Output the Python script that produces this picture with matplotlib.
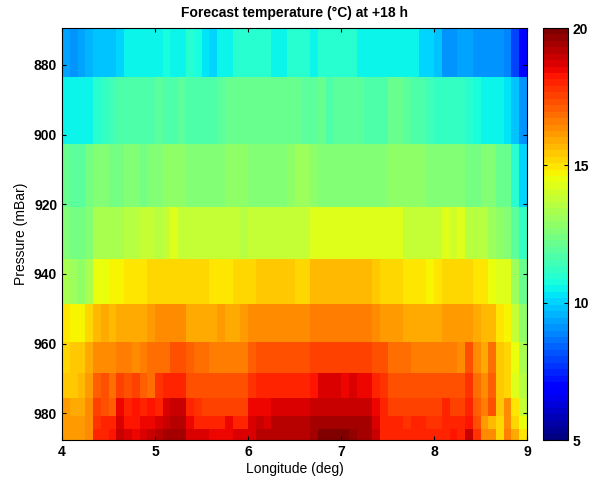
import numpy as np
import matplotlib.pyplot as plt

plt.rcParams['font.family'] = ['Liberation Sans', 'DejaVu Sans']

# cell edges: longitude (deg) and pressure levels (mBar)
lon_edges = np.linspace(4.0, 9.0, 61)
p_edges = [869.4, 883.4, 902.6, 920.7, 935.6, 948.6, 959.6, 968.5, 975.7, 980.8, 984.6, 987.7]

# temperature (degC), one list per pressure layer, top to bottom, 60 columns west to east
t_883 = [9.3, 9.1, 9.3, 9.6, 9.8, 9.8, 9.8, 10.1, 10.4, 10.4, 10.4, 10.4, 10.4, 10.7, 10.5, 10.5,
         10.9, 10.7, 10.3, 10.1, 10.5, 10.6, 10.9, 10.9, 10.9, 10.9, 10.9, 10.6, 10.6, 10.9,
         10.9, 10.9, 10.6, 10.9, 10.9, 10.9, 10.9, 10.9, 10.6, 10.6, 10.6, 10.6, 10.6, 10.6, 10.6,
         10.4, 10.1, 10.1, 9.9, 9.2, 9.2, 9.3, 9.3, 9.15, 9.15, 9.0, 9.0, 8.9, 8.0, 7.1]
t_903 = [10.6, 10.5, 10.6, 10.6, 11.0, 11.3, 11.4, 11.7, 11.7, 11.7, 11.7, 11.7, 11.8, 11.7, 11.7, 11.8,
         11.7, 11.7, 11.6, 11.6, 11.8, 12.1, 12.1, 12.1, 12.1, 12.1, 12.1, 12.1, 12.1, 12.1,
         12.1, 11.9, 11.9, 12.1, 11.7, 12.0, 12.0, 12.0, 12.0, 11.7, 11.7, 11.7, 12.1, 12.1, 11.9,
         11.7, 11.7, 11.5, 11.3, 11.3, 11.2, 11.2, 10.9, 10.8, 10.6, 10.5, 10.6, 10.3, 9.7, 9.0]
t_921 = [12.1, 12.0, 11.8, 12.3, 12.5, 12.5, 12.3, 12.3, 12.5, 12.5, 12.3, 12.5, 12.5, 12.9, 12.9, 12.9,
         12.6, 12.5, 12.5, 12.5, 12.7, 12.9, 12.9, 12.9, 12.7, 12.7, 12.5, 12.7, 12.7, 12.9,
         13.1, 13.0, 12.9, 12.7, 12.5, 12.5, 12.7, 12.7, 12.7, 12.5, 12.5, 12.7, 12.9, 12.9, 12.9,
         12.9, 12.8, 12.7, 12.7, 12.7, 12.7, 12.5, 12.4, 12.3, 12.5, 12.5, 12.1, 12.1, 10.9, 10.1]
t_936 = [12.7, 12.3, 12.3, 12.5, 13.3, 13.3, 13.4, 13.4, 13.6, 13.6, 13.8, 13.8, 13.6, 13.9, 14.2, 13.8,
         13.9, 13.9, 13.9, 13.9, 13.9, 13.9, 13.9, 13.5, 13.9, 13.9, 13.9, 13.9, 13.9, 13.9,
         13.8, 13.8, 14.2, 14.2, 14.2, 14.2, 14.2, 14.2, 14.2, 14.2, 14.2, 14.2, 14.2, 14.2, 13.8,
         13.8, 13.8, 13.8, 13.8, 14.2, 14.0, 14.2, 13.6, 13.6, 13.6, 13.1, 12.9, 12.5, 11.9, 11.2]
t_949 = [13.4, 13.2, 12.9, 13.4, 14.4, 14.4, 14.7, 14.7, 15.0, 15.0, 15.0, 15.2, 15.2, 15.2, 15.3, 15.3,
         15.2, 15.2, 15.1, 14.9, 14.9, 14.9, 15.1, 15.2, 15.2, 15.4, 15.4, 15.4, 15.4, 15.4,
         15.2, 15.2, 15.6, 15.6, 15.6, 15.6, 15.6, 15.6, 15.6, 15.6, 15.5, 15.2, 15.2, 15.2, 14.9,
         15.0, 15.0, 14.8, 15.0, 15.2, 15.2, 15.2, 15.2, 15.0, 15.0, 14.6, 14.2, 14.2, 13.2, 12.1]
t_960 = [15.0, 14.8, 14.8, 15.2, 15.7, 15.9, 15.7, 15.9, 15.9, 15.9, 15.9, 16.1, 16.3, 16.3, 16.3, 16.3,
         16.0, 16.0, 15.8, 15.8, 16.1, 15.8, 15.8, 16.1, 16.3, 16.3, 16.3, 16.4, 16.4, 16.4,
         16.3, 16.3, 16.5, 16.5, 16.5, 16.5, 16.5, 16.5, 16.5, 16.5, 16.3, 16.1, 16.1, 16.1, 15.9,
         15.9, 15.9, 15.9, 15.9, 16.1, 16.1, 16.1, 16.1, 15.9, 15.7, 15.7, 15.0, 14.8, 13.8, 12.9]
t_968 = [15.3, 15.4, 15.4, 15.9, 16.4, 16.4, 16.4, 16.6, 16.6, 16.4, 16.5, 16.8, 16.8, 16.8, 17.2, 17.2,
         17.0, 16.9, 16.8, 16.6, 16.5, 16.5, 16.5, 16.5, 17.0, 17.2, 17.2, 17.4, 17.4, 17.4,
         17.2, 17.2, 17.5, 17.5, 17.5, 17.5, 17.5, 17.5, 17.5, 17.5, 17.3, 17.2, 16.9, 16.8, 16.8,
         16.6, 16.6, 16.6, 16.6, 16.6, 16.6, 16.4, 17.4, 16.4, 15.9, 16.8, 15.5, 15.3, 14.6, 13.4]
t_976 = [15.5, 15.5, 15.7, 16.1, 17.0, 17.2, 16.8, 17.6, 17.4, 17.6, 17.0, 16.8, 17.7, 18.1, 18.1, 18.1,
         17.4, 17.4, 17.2, 17.2, 17.2, 17.2, 17.2, 17.2, 17.7, 17.9, 17.9, 18.1, 18.1, 18.1,
         18.1, 18.1, 18.3, 18.6, 18.6, 18.6, 18.4, 18.7, 18.5, 18.5, 18.1, 17.8, 17.4, 17.4, 17.4,
         17.2, 17.2, 17.2, 17.2, 17.2, 17.2, 17.2, 17.7, 16.8, 16.4, 17.0, 15.5, 15.2, 14.2, 13.6]
t_981 = [16.1, 15.9, 15.9, 16.4, 17.6, 17.4, 17.0, 18.5, 18.1, 18.3, 17.9, 18.3, 18.1, 18.7, 18.9, 18.9,
         18.1, 17.8, 17.6, 17.6, 17.6, 17.6, 17.6, 17.6, 18.4, 18.5, 18.5, 18.8, 18.8, 18.8,
         18.8, 18.8, 19.0, 19.0, 19.0, 19.0, 19.0, 19.0, 19.0, 19.0, 18.5, 18.1, 17.6, 17.6, 17.6,
         17.6, 17.6, 17.6, 17.6, 17.9, 17.6, 17.6, 18.1, 17.0, 16.6, 17.4, 15.5, 16.3, 15.0, 13.8]
t_985 = [16.1, 16.1, 16.1, 16.4, 17.7, 17.9, 17.9, 18.7, 18.3, 18.3, 18.5, 18.5, 18.7, 18.9, 19.1, 19.1,
         18.5, 18.1, 18.1, 18.1, 18.1, 18.4, 18.1, 18.1, 18.8, 18.9, 18.7, 19.2, 19.2, 19.2,
         19.2, 19.2, 19.4, 19.4, 19.4, 19.4, 19.4, 19.4, 19.4, 19.4, 18.7, 18.1, 18.0, 18.0, 17.8,
         17.9, 17.9, 17.8, 17.8, 17.9, 17.9, 17.9, 18.3, 17.2, 16.1, 15.7, 15.2, 16.4, 15.3, 14.4]
t_988 = [16.1, 16.1, 16.1, 16.4, 17.9, 18.1, 18.3, 18.9, 18.7, 18.5, 18.7, 18.9, 19.1, 19.4, 19.5, 19.5,
         18.7, 18.7, 18.7, 18.4, 18.4, 18.4, 18.6, 18.6, 18.8, 19.1, 19.1, 19.2, 19.2, 19.2,
         19.2, 19.2, 19.5, 19.9, 19.9, 19.9, 19.9, 19.7, 19.5, 19.5, 18.9, 18.1, 17.9, 17.9, 18.0,
         17.9, 17.9, 17.9, 17.9, 17.9, 18.2, 18.1, 18.9, 17.7, 16.4, 16.4, 15.3, 16.6, 15.9, 15.0]

temp = np.array([t_883, t_903, t_921, t_936, t_949, t_960, t_968, t_976, t_981, t_985, t_988])

fig = plt.figure(figsize=(5.92, 4.79), dpi=100)
ax = fig.add_axes([62 / 592, 39 / 479, 465 / 592, 412 / 479])
cax = fig.add_axes([543 / 592, 39 / 479, 25 / 592, 412 / 479])

cmap = plt.get_cmap('jet', 64)
mesh = ax.pcolormesh(lon_edges, p_edges, temp, cmap=cmap, vmin=5, vmax=20)
ax.set_xlim(4, 9)
ax.set_ylim(p_edges[-1], p_edges[0])
ax.set_xticks([4, 5, 6, 7, 8, 9])
ax.set_yticks([880, 900, 920, 940, 960, 980])
ax.tick_params(direction='in', length=3, labelsize=10, top=True, right=True)
for lab in ax.get_xticklabels() + ax.get_yticklabels():
    lab.set_fontweight('bold')
ax.set_xlabel('Longitude (deg)', fontsize=10, labelpad=2)
ax.set_ylabel('Pressure (mBar)', fontsize=10, labelpad=4)
ax.set_title('Forecast temperature (°C) at +18 h', fontsize=10, fontweight='semibold', pad=8)

cb = fig.colorbar(mesh, cax=cax, ticks=[5, 10, 15, 20])
cb.outline.set_linewidth(0.8)
cax.tick_params(direction='in', length=3, labelsize=10, left=True, right=True)
for lab in cax.get_yticklabels():
    lab.set_fontweight('bold')

fig.savefig('out.png', dpi=100)
